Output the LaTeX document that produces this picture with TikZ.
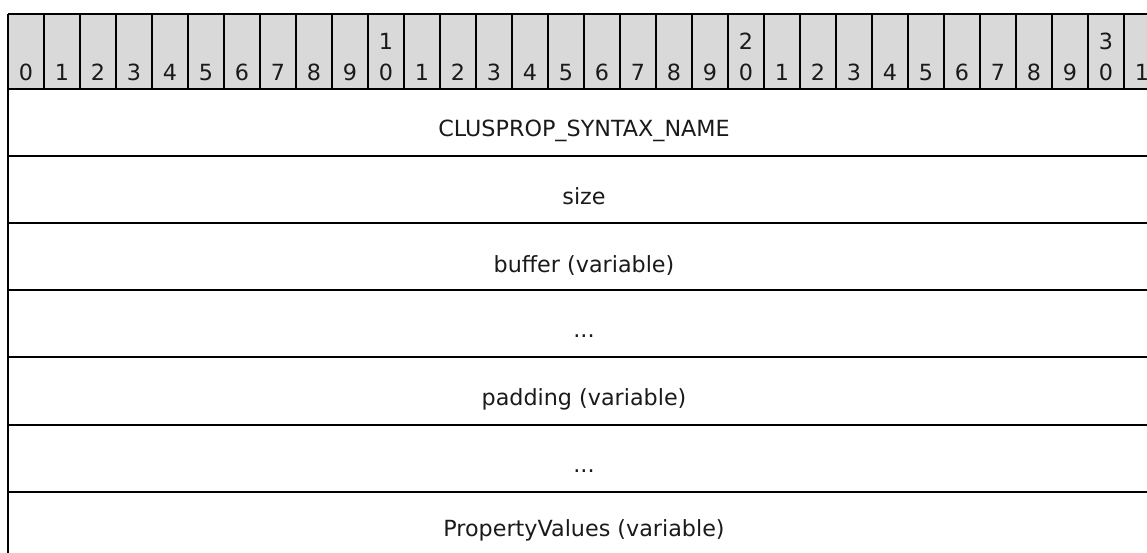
\documentclass[tikz,border=0pt]{standalone}
\usepackage{fontspec}
\setmainfont{DejaVu Sans}
\definecolor{hdrgray}{HTML}{D9D9D9}
\definecolor{txt}{HTML}{1A1A1A}
\begin{document}
\begin{tikzpicture}[x=0.75pt,y=-0.75pt,
  font=\fontsize{16.7pt}{20pt}\selectfont,
  gridline/.style={line width=1.5pt, black},
  colline/.style={line width=1.2pt, black},
  bitlbl/.style={anchor=base, inner sep=0pt, text=txt},
  fieldlbl/.style={anchor=base, inner sep=0pt, text=txt}]
\useasboundingbox (0,0) rectangle (1147,553);
\clip (0,0) rectangle (1147,553);
% header background
\fill[hdrgray] (8,14) rectangle (1160,89);
% column dividers in header
\foreach \i in {1,...,32} {
  \draw[colline] ({8+36*\i},14) -- ({8+36*\i},89);
}
% bit labels
\foreach \i in {0,...,31} {
  \pgfmathtruncatemacro{\u}{mod(\i,10)}
  \pgfmathtruncatemacro{\t}{div(\i,10)}
  \node[bitlbl] (bit\i) at ({26+36*\i},80) {\u};
  \ifnum\i>9 \ifnum\u=0
    \node[bitlbl] (bitt\i) at ({26+36*\i},50) {\t};
  \fi\fi
}
% horizontal rules
\foreach \y in {14,89,156.1,223.2,290.3,357.4,424.5,491.6} {
  \draw[gridline] (8,\y) -- (1160,\y);
}
% left border
\draw[gridline] (8,14) -- (8,553);
% field labels
\node[fieldlbl] (f1) at (584,136.8) {CLUSPROP\_SYNTAX\_NAME};
\node[fieldlbl] (f2) at (584,204.5) {size};
\node[fieldlbl] (f3) at (584,272) {buffer (variable)};
\node[fieldlbl] (f4) at (584,337.5) {...};
\node[fieldlbl] (f5) at (584,405.5) {padding (variable)};
\node[fieldlbl] (f6) at (584,472) {...};
\node[fieldlbl] (f7) at (584,536) {PropertyValues (variable)};
\end{tikzpicture}
\end{document}
